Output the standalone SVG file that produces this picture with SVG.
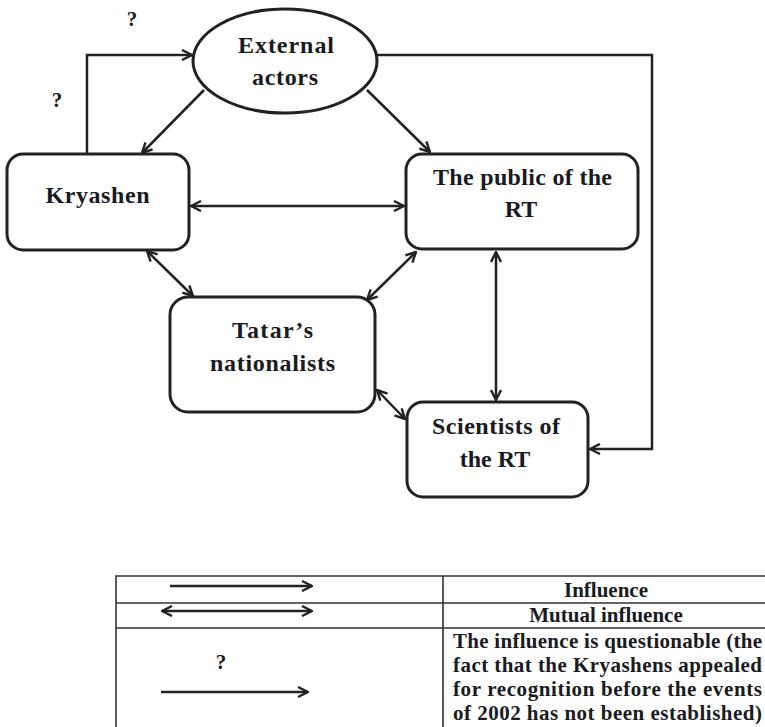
<svg xmlns="http://www.w3.org/2000/svg" width="765" height="727" viewBox="0 0 765 727">
<style>
.node{fill:#fff;stroke:#222;stroke-width:3}
.t{font-family:"Liberation Serif","Times New Roman",serif;font-weight:bold;font-size:24px;fill:#1a1a22;text-anchor:middle}
.q{font-family:"Liberation Serif","Times New Roman",serif;font-weight:bold;font-size:21px;fill:#1a1a22;text-anchor:middle}
.tb{font-family:"Liberation Serif","Times New Roman",serif;font-weight:bold;font-size:21px;fill:#1a1a22}
.c{fill:none;stroke:#222;stroke-width:2.5}
.grid{fill:none;stroke:#333;stroke-width:1.6}
</style>
<defs>
<marker id="ah" viewBox="0 0 12 12" refX="11" refY="6" markerWidth="12" markerHeight="12" markerUnits="userSpaceOnUse" orient="auto-start-reverse">
<path d="M1,1 L11,6 L1,11" fill="none" stroke="#222" stroke-width="2.4"/>
</marker>
</defs>
<g id="connectors">
<path class="c" d="M87,154 V55 H192" marker-end="url(#ah)"/>
<path class="c" d="M204,90 L142,153" marker-end="url(#ah)"/>
<path class="c" d="M367,90 L430,152" marker-end="url(#ah)"/>
<path class="c" d="M377,55 H652 V449 H590" marker-end="url(#ah)"/>
<path class="c" d="M191,206 H404" marker-start="url(#ah)" marker-end="url(#ah)"/>
<path class="c" d="M147,251 L193,296" marker-start="url(#ah)" marker-end="url(#ah)"/>
<path class="c" d="M416,252 L367,300" marker-start="url(#ah)" marker-end="url(#ah)"/>
<path class="c" d="M496,252 V400" marker-start="url(#ah)" marker-end="url(#ah)"/>
<path class="c" d="M377,390 L405,419" marker-start="url(#ah)" marker-end="url(#ah)"/>
<text class="q" x="132" y="26">?</text>
<text class="q" x="57" y="107">?</text>
</g>
<g id="external">
<ellipse class="node" cx="285" cy="61" rx="92" ry="52"/>
<text class="t" x="286" y="53" textLength="96" lengthAdjust="spacing">External</text>
<text class="t" x="285" y="85" textLength="66" lengthAdjust="spacing">actors</text>
</g>
<g id="kryashen">
<rect class="node" x="7" y="154" width="182" height="96" rx="16"/>
<text class="t" x="97.5" y="203" textLength="104" lengthAdjust="spacing">Kryashen</text>
</g>
<g id="public">
<rect class="node" x="406" y="154" width="232" height="95" rx="16"/>
<text class="t" x="522.5" y="185" textLength="179" lengthAdjust="spacing">The public of the</text>
<text class="t" x="521" y="217">RT</text>
</g>
<g id="tatar">
<rect class="node" x="170" y="297" width="205" height="115" rx="18"/>
<text class="t" x="272.5" y="338" textLength="81" lengthAdjust="spacing">Tatar’s</text>
<text class="t" x="272.5" y="371" textLength="125" lengthAdjust="spacing">nationalists</text>
</g>
<g id="scientists">
<rect class="node" x="407" y="402" width="181" height="95" rx="16"/>
<text class="t" x="496" y="434" textLength="128" lengthAdjust="spacing">Scientists of</text>
<text class="t" x="495" y="467">the RT</text>
</g>
<g id="legend">
<path class="grid" d="M116,730 V576 H770 M116,603 H770 M116,628 H770 M443,576 V730"/>
<path class="c" d="M170,586 H312" marker-end="url(#ah)"/>
<path class="c" d="M162,611 H312" marker-start="url(#ah)" marker-end="url(#ah)"/>
<text class="q" x="221" y="669">?</text>
<path class="c" d="M161,692 H308" marker-end="url(#ah)"/>
<text class="tb" x="606" y="597" text-anchor="middle">Influence</text>
<text class="tb" x="606" y="622" text-anchor="middle">Mutual influence</text>
<text class="tb" x="453" y="648" textLength="309" lengthAdjust="spacing">The influence is questionable (the</text>
<text class="tb" x="453" y="672" textLength="309" lengthAdjust="spacing">fact that the Kryashens appealed</text>
<text class="tb" x="453" y="696" textLength="309" lengthAdjust="spacing">for recognition before the events</text>
<text class="tb" x="453" y="720" textLength="309" lengthAdjust="spacing">of 2002 has not been established)</text>
</g>
</svg>
